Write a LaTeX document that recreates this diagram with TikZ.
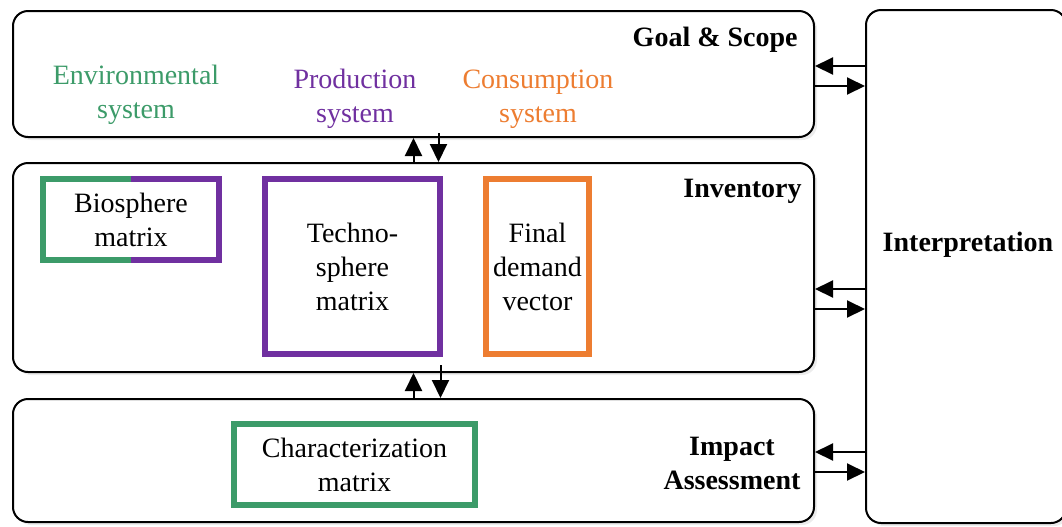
\documentclass[tikz,border=0pt]{standalone}
\usepackage{fontspec}
\setmainfont{LiberationSerif}[Extension=.ttf, UprightFont=*-Regular, BoldFont=*-Bold, ItalicFont=*-Italic, BoldItalicFont=*-BoldItalic]
\usetikzlibrary{arrows.meta,positioning,shadows}
\definecolor{envgreen}{RGB}{60,155,105}
\definecolor{prodpurple}{RGB}{112,48,160}
\definecolor{consorange}{RGB}{237,125,49}

\begin{document}
\begin{tikzpicture}[
    x=0.5pt, y=-0.5pt,
    every node/.style={font=\fontsize{14}{17}\selectfont},
    phase/.style={rectangle, draw=black, line width=1pt, rounded corners=7.5pt, fill=white, drop shadow={shadow xshift=1.5pt, shadow yshift=-1.5pt, fill=black!15}},
    mat/.style={rectangle, line width=3pt, align=center, fill=white, inner sep=0pt},
    title/.style={font=\fontsize{14}{17}\selectfont\bfseries, align=center, inner sep=0pt},
    sys/.style={align=center, inner sep=0pt},
    arr/.style={-{Triangle[length=9pt,width=8.5pt]}, line width=1pt}
]
\useasboundingbox (0,0) rectangle (1062,526);

\node[phase, minimum width=400.5pt, minimum height=63pt] (goal) at (413.5,74) {};
\node[phase, minimum width=400.5pt, minimum height=104.5pt] (inv) at (413.5,267.5) {};
\node[phase, minimum width=400.5pt, minimum height=61.5pt] (imp) at (413.5,460.5) {};
\node[phase, minimum width=100pt, minimum height=256.5pt] (interp) at (966,266.5) {};

\node[title, anchor=east] (goaltitle) at (798,40) {Goal \& Scope};
\node[title, anchor=east] (invtitle) at (802,191) {Inventory};
\node[title] (imptitle) at (732,463) {Impact\\Assessment};
\node[title] (interptitle) at (968,245) {Interpretation};

\node[sys, text=envgreen] (env) at (136,95) {Environmental\\system};
\node[sys, text=prodpurple] (prod) at (355,99) {Production\\system};
\node[sys, text=consorange] (cons) at (538,99) {Consumption\\system};

\node[mat, outer sep=0pt, minimum width=88pt, minimum height=40.5pt] (bio) at (131,219.5) {Biosphere\\matrix};
\draw[envgreen, line width=3pt] (bio.north) -| (bio.south west) -- (bio.south);
\draw[prodpurple, line width=3pt] (bio.north) -| (bio.south east) -- (bio.south);
\node[mat, draw=prodpurple, minimum width=87.5pt, minimum height=87.5pt] (techno) at (352.5,266.5) {Techno-\\sphere\\matrix};
\node[mat, draw=consorange, minimum width=51.5pt, minimum height=87.5pt] (demand) at (537.5,266.5) {Final\\demand\\vector};
\node[mat, draw=envgreen, minimum width=120.5pt, minimum height=40.5pt] (charmat) at (354.5,464.5) {Characterization\\matrix};

\draw[arr] (inv.north) -- (goal.south);
\draw[arr] ([xshift=12.5pt,yshift=2.5pt]goal.south) -- ([xshift=12.5pt]inv.north);
\draw[arr] (imp.north) -- (inv.south);
\draw[arr] ([xshift=13.5pt,yshift=4pt]inv.south) -- ([xshift=13.5pt]imp.north);

\draw[arr] ([yshift=4pt]goal.east -| interp.west) -- ([yshift=4pt]goal.east);
\draw[arr] ([yshift=-6pt]goal.east) -- ([yshift=-6pt]goal.east -| interp.west);
\draw[arr] ([yshift=-10.75pt]inv.east -| interp.west) -- ([yshift=-10.75pt]inv.east);
\draw[arr] ([yshift=-20.75pt]inv.east) -- ([yshift=-20.75pt]inv.east -| interp.west);
\draw[arr] ([yshift=4.25pt]imp.east -| interp.west) -- ([yshift=4.25pt]imp.east);
\draw[arr] ([yshift=-5.75pt]imp.east) -- ([yshift=-5.75pt]imp.east -| interp.west);
\end{tikzpicture}
\end{document}
